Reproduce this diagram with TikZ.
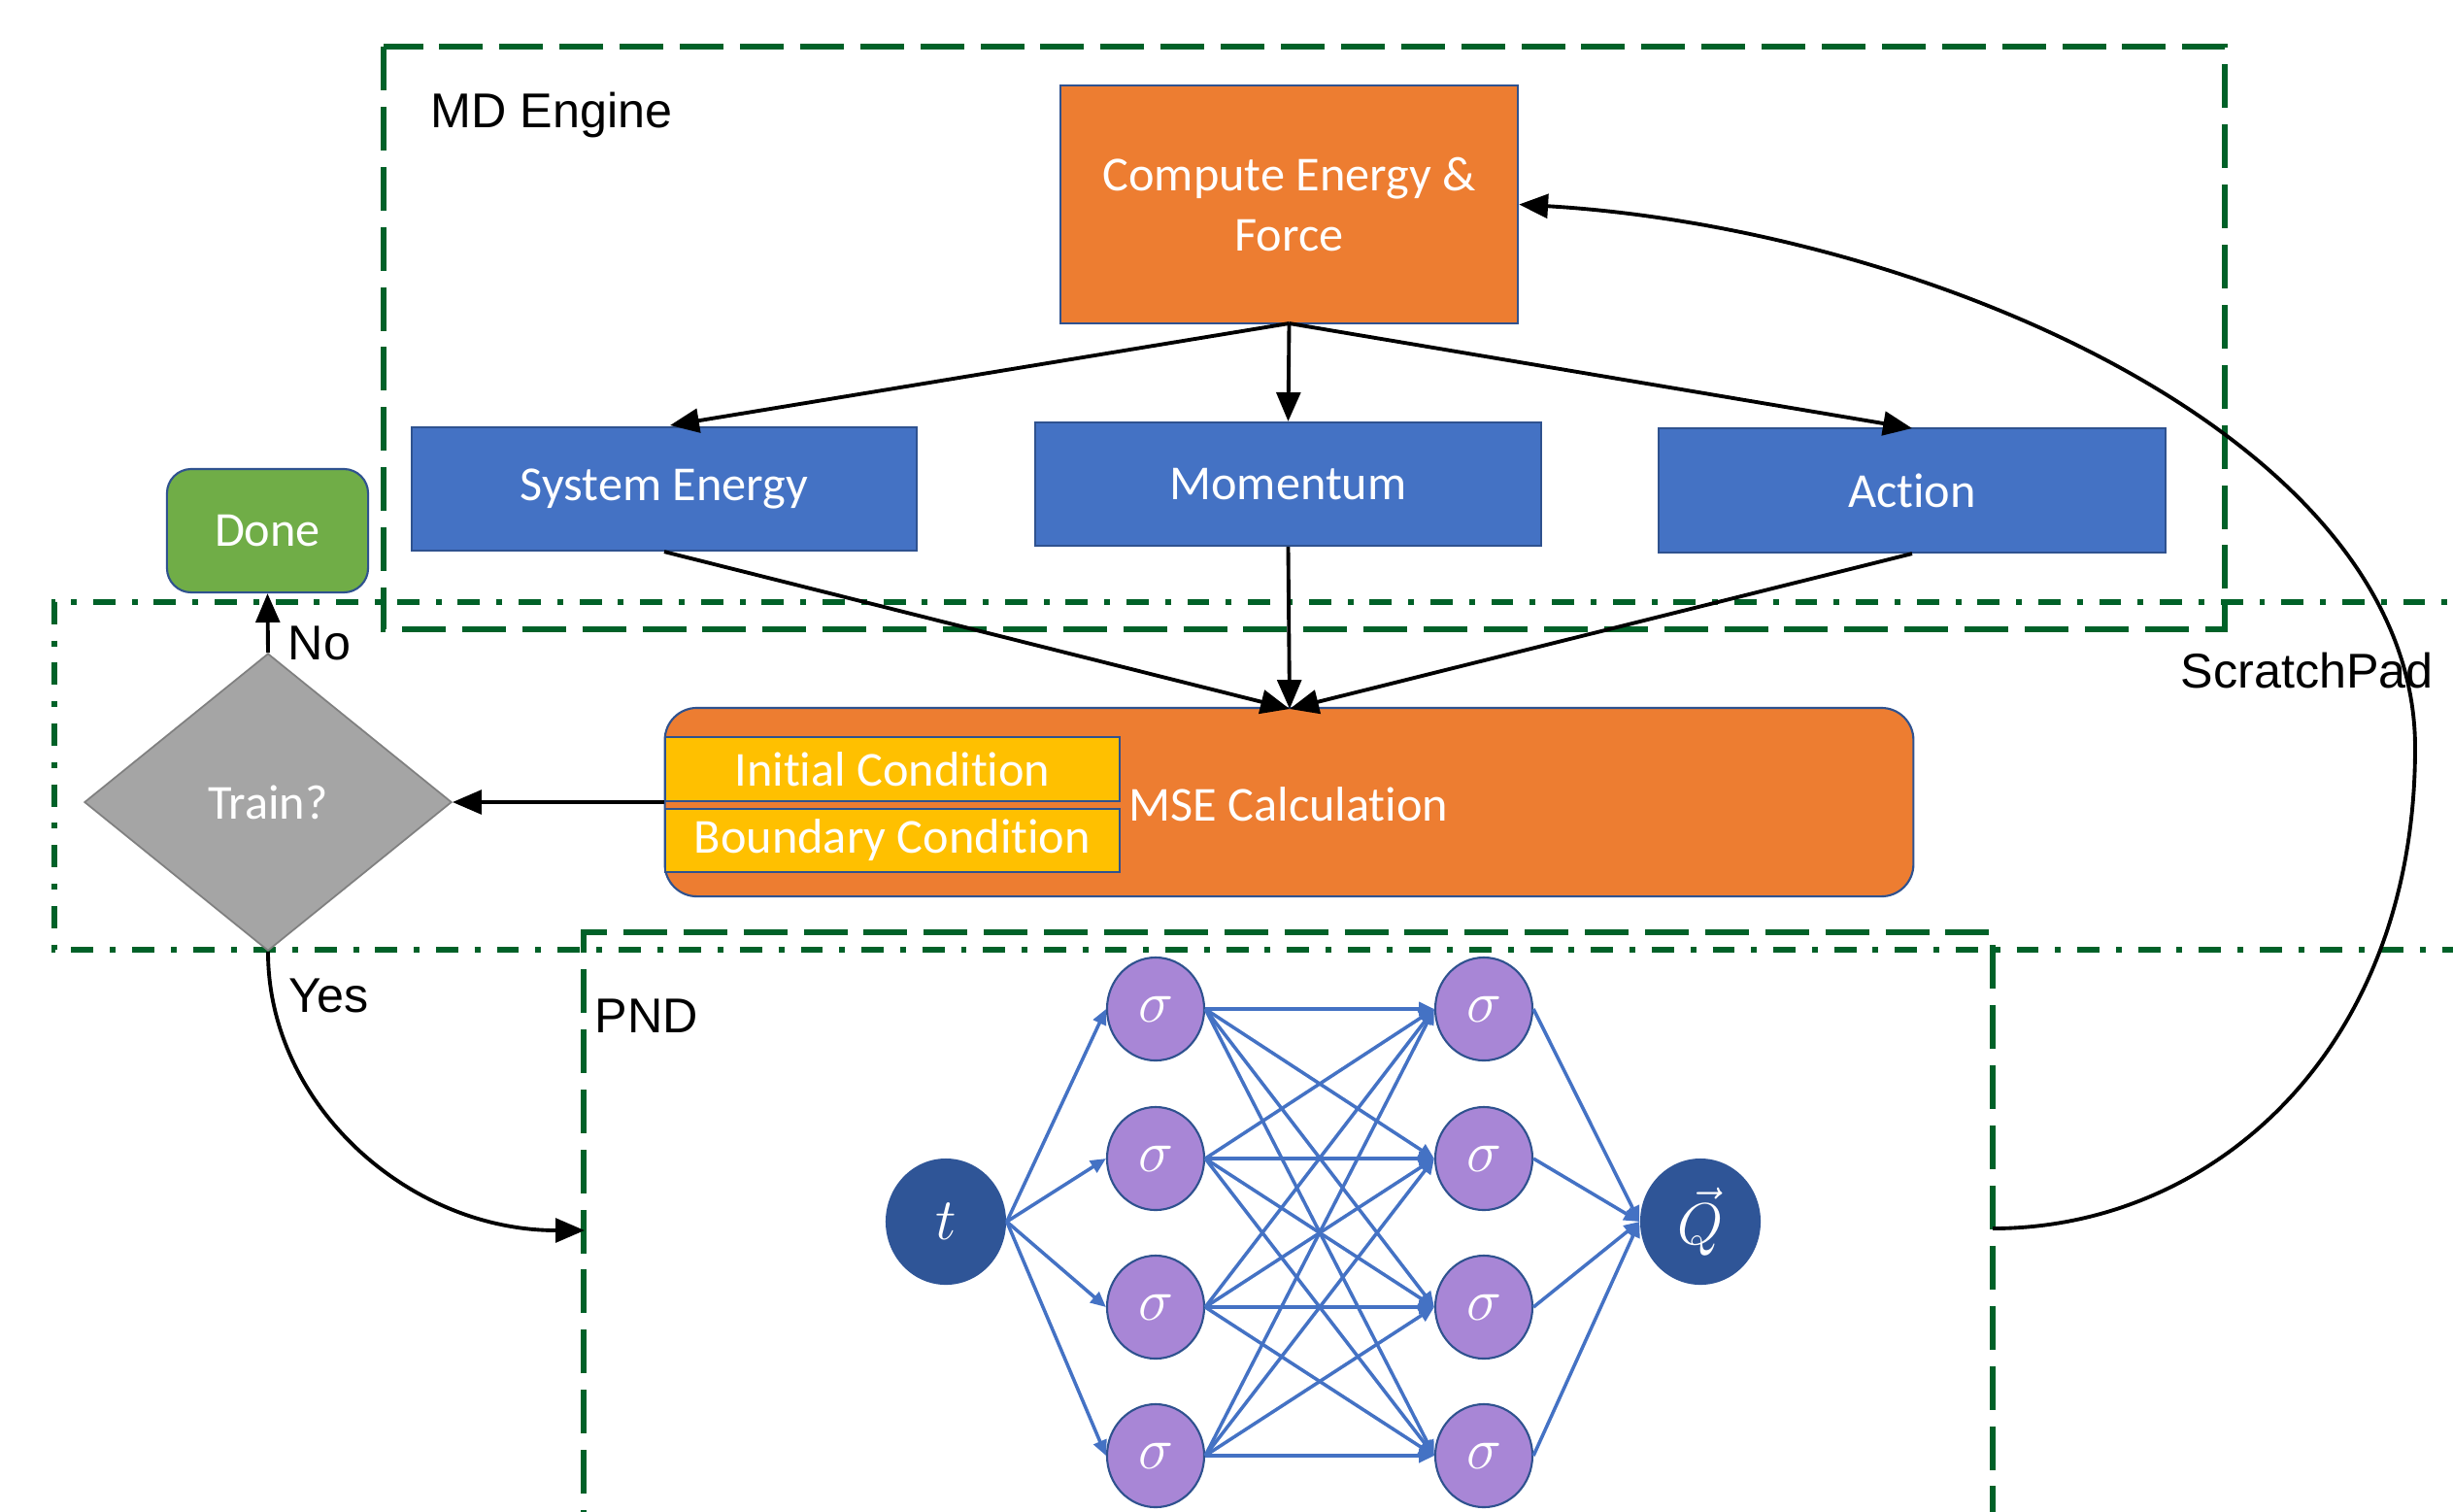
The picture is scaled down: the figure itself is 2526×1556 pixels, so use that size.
\documentclass[tikz,border=0pt]{standalone}
\usepackage{fontspec}
\setmainfont{Carlito}[Ligatures=NoCommon]
\newfontfamily\arialf{Liberation Sans}
\usetikzlibrary{shapes.geometric,arrows.meta}

\definecolor{boxorange}{HTML}{ED7D31}
\definecolor{boxblue}{HTML}{4472C4}
\definecolor{boxgreen}{HTML}{70AD47}
\definecolor{boxgray}{HTML}{A5A5A5}
\definecolor{boxyellow}{HTML}{FFC000}
\definecolor{edgeblue}{HTML}{2F528F}
\definecolor{nodedark}{HTML}{2F5597}
\definecolor{nodepurple}{HTML}{A886D6}
\definecolor{framegreen}{HTML}{006128}
\definecolor{netblue}{HTML}{4472C4}

\tikzset{
  boxtext/.style={font=\fontsize{14.3}{17.9}\selectfont, text=white, align=center},
  plainbox/.style={boxtext, draw=edgeblue, line width=0.6pt, inner sep=0pt},
  labeltext/.style={font=\arialf\fontsize{14.3}{17}\selectfont, inner sep=0pt},
  arr/.style={line width=1.1pt, -{Triangle[length=8.5pt,width=7pt]}},
  engineframe/.style={draw=framegreen, line width=1.6pt, dash pattern=on 12.8pt off 4.8pt},
  padframe/.style={draw=framegreen, line width=1.6pt, dash pattern=on 6.5pt off 4.8pt on 1.7pt off 4.8pt},
  neuron/.style={ellipse, draw=edgeblue, line width=0.6pt, fill=nodepurple, text=white,
    minimum width=1.0cm, minimum height=1.06cm, inner sep=0pt, font=\fontsize{18}{18}\selectfont},
  endpoint/.style={ellipse, fill=nodedark, text=white,
    minimum width=1.24cm, minimum height=1.30cm, inner sep=0pt, font=\fontsize{17}{17}\selectfont},
  synapse/.style={draw=netblue, line width=1pt, -{Triangle[length=4.5pt,width=4pt]}}
}

\begin{document}
\begin{tikzpicture}[x=0.01cm,y=0.01cm]
\useasboundingbox (0,0) rectangle (2526,-1556);
\clip (0,0) rectangle (2526,-1556);

% group frames
\draw[engineframe] (395,-48) rectangle (2291,-648);
\draw[padframe] (2560,-620) -- (56,-620) -- (56,-978) -- (2560,-978);
\draw[engineframe] (601,-1600) -- (601,-960) -- (2052,-960) -- (2052,-1600);

\node[labeltext, anchor=west] (mdlabel) at (443,-118) {MD Engine};
\node[labeltext, anchor=west] (padlabel) at (2245,-691) {ScratchPad};
\node[labeltext, anchor=west] (pndlabel) at (612,-1046) {PND};

% MD engine boxes
\node[plainbox, fill=boxorange, minimum width=4.71cm, minimum height=2.45cm] (compute) at (1327.5,-210.5) {Compute Energy \&\\Force};
\node[plainbox, fill=boxblue, minimum width=5.20cm, minimum height=1.27cm] (sysE) at (684,-503.5) {System Energy};
\node[plainbox, fill=boxblue, minimum width=5.21cm, minimum height=1.27cm] (mom) at (1326.5,-498.5) {Momentum};
\node[plainbox, fill=boxblue, minimum width=5.22cm, minimum height=1.28cm] (act) at (1969,-505) {Action};

% loss and decision
\node[plainbox, fill=boxorange, rounded corners=0.33cm, minimum width=12.85cm, minimum height=1.94cm] (mse) at (1327.5,-826) {};
\node[plainbox, fill=boxyellow, minimum width=4.68cm, minimum height=0.66cm] (init) at (919,-792) {Initial Condition};
\node[plainbox, fill=boxyellow, minimum width=4.68cm, minimum height=0.65cm] (bound) at (919,-865.5) {Boundary Condition};
\node[boxtext, anchor=west, inner sep=0pt] (msetext) at (1162,-828) {MSE Calculation};

\node[diamond, fill=boxgray, draw=gray, line width=0.5pt, minimum width=3.78cm, minimum height=3.06cm, inner sep=0pt, boxtext] (train) at (276,-826) {Train?};
\node[plainbox, fill=boxgreen, rounded corners=0.25cm, minimum width=2.07cm, minimum height=1.27cm] (done) at (275.5,-546.5) {Done};

% connectors
\coordinate (computeB) at (1327.5,-333);
\coordinate (mseT) at (1328,-730);
\draw[arr] (computeB) -- (690,-438);
\draw[arr] (computeB) -- (mom.north);
\draw[arr] (computeB) -- (1969,-441);
\draw[arr] (sysE.south) -- (mseT);
\draw[arr] (mom.south) -- (mseT);
\draw[arr] (act.south) -- (mseT);
\draw[arr] (mse.west) -- (train.east);
\draw[arr] (train.north) -- (done.south);
\node[labeltext, anchor=west] (nolabel) at (296,-662) {No};
\node[labeltext, anchor=west] (yeslabel) at (297,-1025) {Yes};

\coordinate (pndL) at (602,-1267);
\coordinate (pndR) at (2052,-1265);
\coordinate (padE) at (2487,-770);
\draw[arr] (train.south) .. controls (276,-1138) and (421,-1267) .. (pndL);
\draw[arr] (pndR) .. controls (2280,-1265) and (2487,-1080) .. (padE)
  .. controls (2487,-450) and (1980,-235) .. (compute.east);

% network
\node[endpoint] (tin) at (974,-1258) {$t$};
\node[endpoint] (qout) at (1751,-1258) {$\vec{Q}$};
\foreach \i/\y in {1/-1039, 2/-1193, 3/-1346, 4/-1499} {
  \node[neuron] (a\i) at (1190,\y) {$\sigma$};
  \node[neuron] (b\i) at (1528,\y) {$\sigma$};
}
\foreach \i in {1,...,4} {
  \draw[synapse] (tin.east) -- (a\i.west);
  \draw[synapse] (b\i.east) -- (qout.west);
  \foreach \j in {1,...,4} {
    \draw[synapse] (a\i.east) -- (b\j.west);
  }
}
\end{tikzpicture}
\end{document}
